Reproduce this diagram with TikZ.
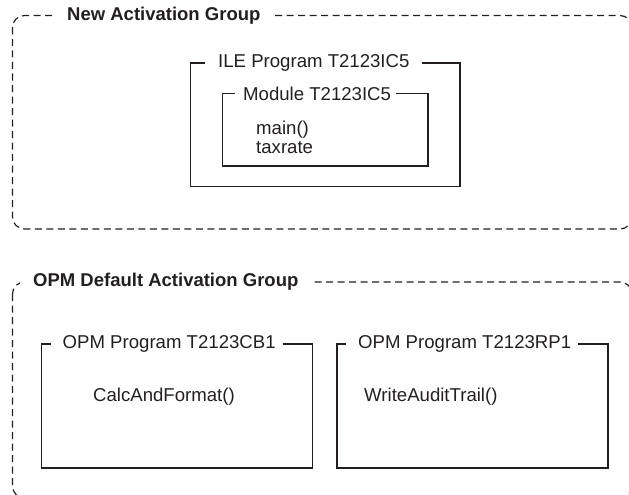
\documentclass[tikz,border=0pt]{standalone}
\usepackage{fontspec}
\setmainfont{Liberation Sans}
\usepackage{xcolor}
\definecolor{inkgrey}{RGB}{35,31,32}

\tikzset{
  grpframe/.style={inkgrey,dash pattern=on 7pt off 4.5pt,line width=1.2pt,rounded corners=12pt},
  pgmframe/.style={inkgrey,line width=1.2pt},
  grptitle/.style={inkgrey,font=\fontsize{18.5}{21}\selectfont\bfseries,fill=white,inner xsep=13pt,anchor=west},
  pgmtitle/.style={inkgrey,font=\fontsize{18.6}{21}\selectfont,inner xsep=0pt,anchor=west},
  pgmtext/.style={inkgrey,font=\fontsize{18.6}{19}\selectfont,align=left,inner sep=0pt,anchor=west}
}

\begin{document}
\begin{tikzpicture}[x=1pt,y=-1pt]
  \useasboundingbox (0,0) rectangle (629,495);
  % new activation group
  \draw[grpframe](12.5,15.5) rectangle (632,229);
  \node[grptitle](newgrp)at(54,15.5){New Activation Group};
  \node[pgmtitle](ilepgm)at(218,63){ILE Program T2123IC5};
  \draw[pgmframe]([xshift=12pt]ilepgm.east)--(460,63)--(460,186.5)
    --(190.5,186.5)--(190.5,63)--([xshift=-13pt]ilepgm.west);
  \node[pgmtitle](module)at(243,93.5){Module T2123IC5};
  \draw[pgmframe]([xshift=5pt]module.east)--(428,93.5)--(428,166)
    --(222.5,166)--(222.5,93.5)--([xshift=-8pt]module.west);
  \node[pgmtext](modtext)at(256,137.5){main()\\taxrate};
  % OPM default activation group
  \draw[grpframe](12.5,282) rectangle (632,498);
  \node[grptitle](opmgrp)at(20,282){OPM Default Activation Group};
  \foreach \xx/\nm/\pgm/\dx/\fn in {41.5/cb/T2123CB1/51.5/CalcAndFormat(),337/rp/T2123RP1/27/WriteAuditTrail()}{
    \node[pgmtitle](\nm pgm)at(\xx+21,344){OPM Program \pgm};
    \draw[pgmframe]([xshift=7pt]\nm pgm.east)--(\xx+271,344)--(\xx+271,468)
      --(\xx,468)--(\xx,344)--([xshift=-12pt]\nm pgm.west);
    \node[pgmtext](\nm fn)at(\xx+\dx,397){\fn};
  }
\end{tikzpicture}
\end{document}
